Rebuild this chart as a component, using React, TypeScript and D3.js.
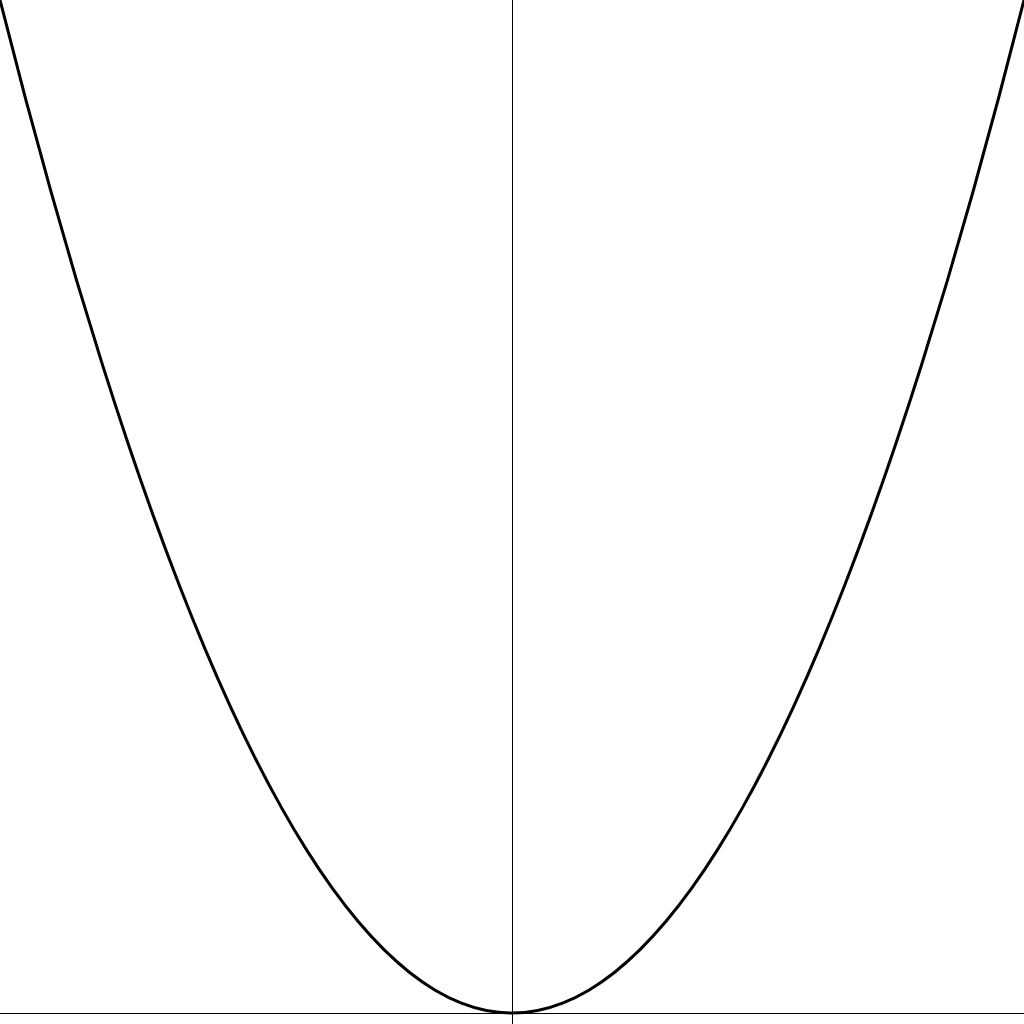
import * as d3 from "d3";

// Sample points (y = x², x from -10 to 10)
const XS = [
  -10, -9.5, -9, -8.5, -8, -7.5, -7, -6.5, -6, -5.5, -5, -4.5, -4, -3.5, -3, -2.5, -2, -1.5, -1, -0.5,
  0, 0.5, 1, 1.5, 2, 2.5, 3, 3.5, 4, 4.5, 5, 5.5, 6, 6.5, 7, 7.5, 8, 8.5, 9, 9.5, 10,
];
const YS = [
  100, 90.25, 81, 72.25, 64, 56.25, 49, 42.25, 36, 30.25, 25, 20.25, 16, 12.25, 9, 6.25, 4, 2.25, 1, 0.25,
  0, 0.25, 1, 2.25, 4, 6.25, 9, 12.25, 16, 20.25, 25, 30.25, 36, 42.25, 49, 56.25, 64, 72.25, 81, 90.25, 100,
];

const WIDTH = 1024;
const HEIGHT = 1024;

export default function App() {
  const x = d3.scaleLinear().domain([-10, 10]).range([0, WIDTH]);
  const y = d3.scaleLinear().domain([0, 100]).range([1013, 0]);

  const points: [number, number][] = XS.map((v, i) => [v, YS[i]]);
  const line = d3
    .line<[number, number]>()
    .x((d) => x(d[0]))
    .y((d) => y(d[1]))
    .curve(d3.curveNatural);

  const x0 = Math.round(x(0)) + 0.5;
  const y0 = Math.round(y(0)) + 0.5;

  return (
    <svg
      width={WIDTH}
      height={HEIGHT}
      style={{ position: "fixed", left: 0, top: 0, background: "#fff" }}
    >
      <line x1={0} x2={WIDTH} y1={y0} y2={y0} stroke="#000" strokeWidth={1} />
      <line x1={x0} x2={x0} y1={0} y2={HEIGHT} stroke="#000" strokeWidth={1} />
      <path d={line(points) ?? ""} fill="none" stroke="#000" strokeWidth={3} />
    </svg>
  );
}
